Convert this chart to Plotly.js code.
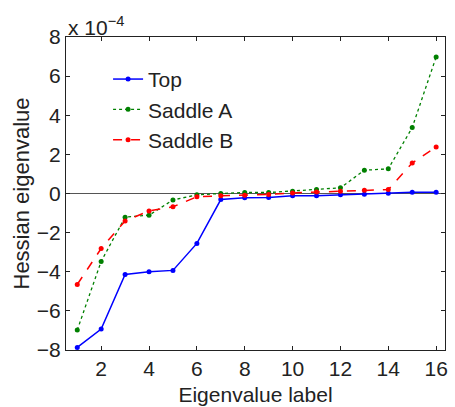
<!DOCTYPE html>
<html>
<head>
<meta charset="utf-8">
<script src="https://cdn.plot.ly/plotly-3.0.1.min.js"></script>
<style>html,body{margin:0;padding:0;background:#fff;}#chart{width:455px;height:407px;}</style>
</head>
<body>
<div id="chart"></div>
<script>
// Eigenvalue labels
var labels = [1,2,3,4,5,6,7,8,9,10,11,12,13,14,15,16];
// Hessian eigenvalues, in units of 1e-4
var topVals     = [-7.87,-6.93,-4.14,-4.00,-3.93,-2.55,-0.31,-0.22,-0.20,-0.12,-0.11,-0.07,-0.04,0.01,0.07,0.07];
var saddleAVals = [-6.98,-3.47,-1.21,-1.11,-0.33,-0.07,0.00,0.05,0.05,0.12,0.20,0.29,1.19,1.26,3.37,6.98];
var saddleBVals = [-4.65,-2.81,-1.40,-0.89,-0.68,-0.17,-0.12,-0.09,-0.05,0.03,0.08,0.12,0.17,0.20,1.56,2.38];
var seriesNames = ["Top","Saddle A","Saddle B"];
var xTicks = [2,4,6,8,10,12,14,16];
var yTicks = [-8,-6,-4,-2,0,2,4,6,8];
var yTickText = ["\u22128","\u22126","\u22124","\u22122","0","2","4","6","8"];

var font = "Liberation Sans, Arial, Helvetica, sans-serif";
var fs = 21;
var traces = [
  {x: labels, y: topVals, name: seriesNames[0], mode: "lines+markers",
   line: {color: "#0000ff", width: 1.5, dash: "solid"}, marker: {color: "#0000ff", size: 5}},
  {x: labels, y: saddleAVals, name: seriesNames[1], mode: "lines+markers",
   line: {color: "#008000", width: 1.3, dash: "dot"}, marker: {color: "#008000", size: 5}},
  {x: labels, y: saddleBVals, name: seriesNames[2], mode: "lines+markers",
   line: {color: "#ff0000", width: 1.5, dash: "dash"}, marker: {color: "#ff0000", size: 5}}
];
var layout = {
  width: 455, height: 407,
  margin: {l: 66, r: 10, t: 37, b: 57},
  paper_bgcolor: "#fff", plot_bgcolor: "#fff",
  font: {family: font, size: fs, color: "#222"},
  showlegend: true,
  legend: {x: 0.111, y: 0.93, xanchor: "left", yanchor: "top", bgcolor: "rgba(0,0,0,0)",
           font: {family: font, size: fs, color: "#222"}},
  xaxis: {range: [0.53, 16.37], tickvals: xTicks, ticks: "inside", ticklen: 4, tickcolor: "#222",
          showline: true, linecolor: "#222", linewidth: 1, mirror: "ticks", showgrid: false, zeroline: false,
          title: {text: "Eigenvalue label", font: {family: font, size: fs, color: "#222"}, standoff: 8},
          tickfont: {family: font, size: fs, color: "#222"}},
  yaxis: {range: [-8, 8], tickvals: yTicks, ticktext: yTickText, ticks: "inside", ticklen: 4, tickcolor: "#222",
          showline: true, linecolor: "#222", linewidth: 1, mirror: "ticks", showgrid: false,
          zeroline: true, zerolinecolor: "#555", zerolinewidth: 1,
          title: {text: "Hessian eigenvalue", font: {family: font, size: 22, color: "#222"}, standoff: 1},
          tickfont: {family: font, size: fs, color: "#222"}},
  annotations: [{xref: "paper", yref: "paper", x: 0, y: 1, xanchor: "left", yanchor: "bottom", yshift: -4,
                 showarrow: false, text: "x 10<sup>\u22124</sup>", font: {family: font, size: fs, color: "#222"}}]
};
Plotly.newPlot("chart", traces, layout, {displayModeBar: false, staticPlot: true});
</script>
</body>
</html>
